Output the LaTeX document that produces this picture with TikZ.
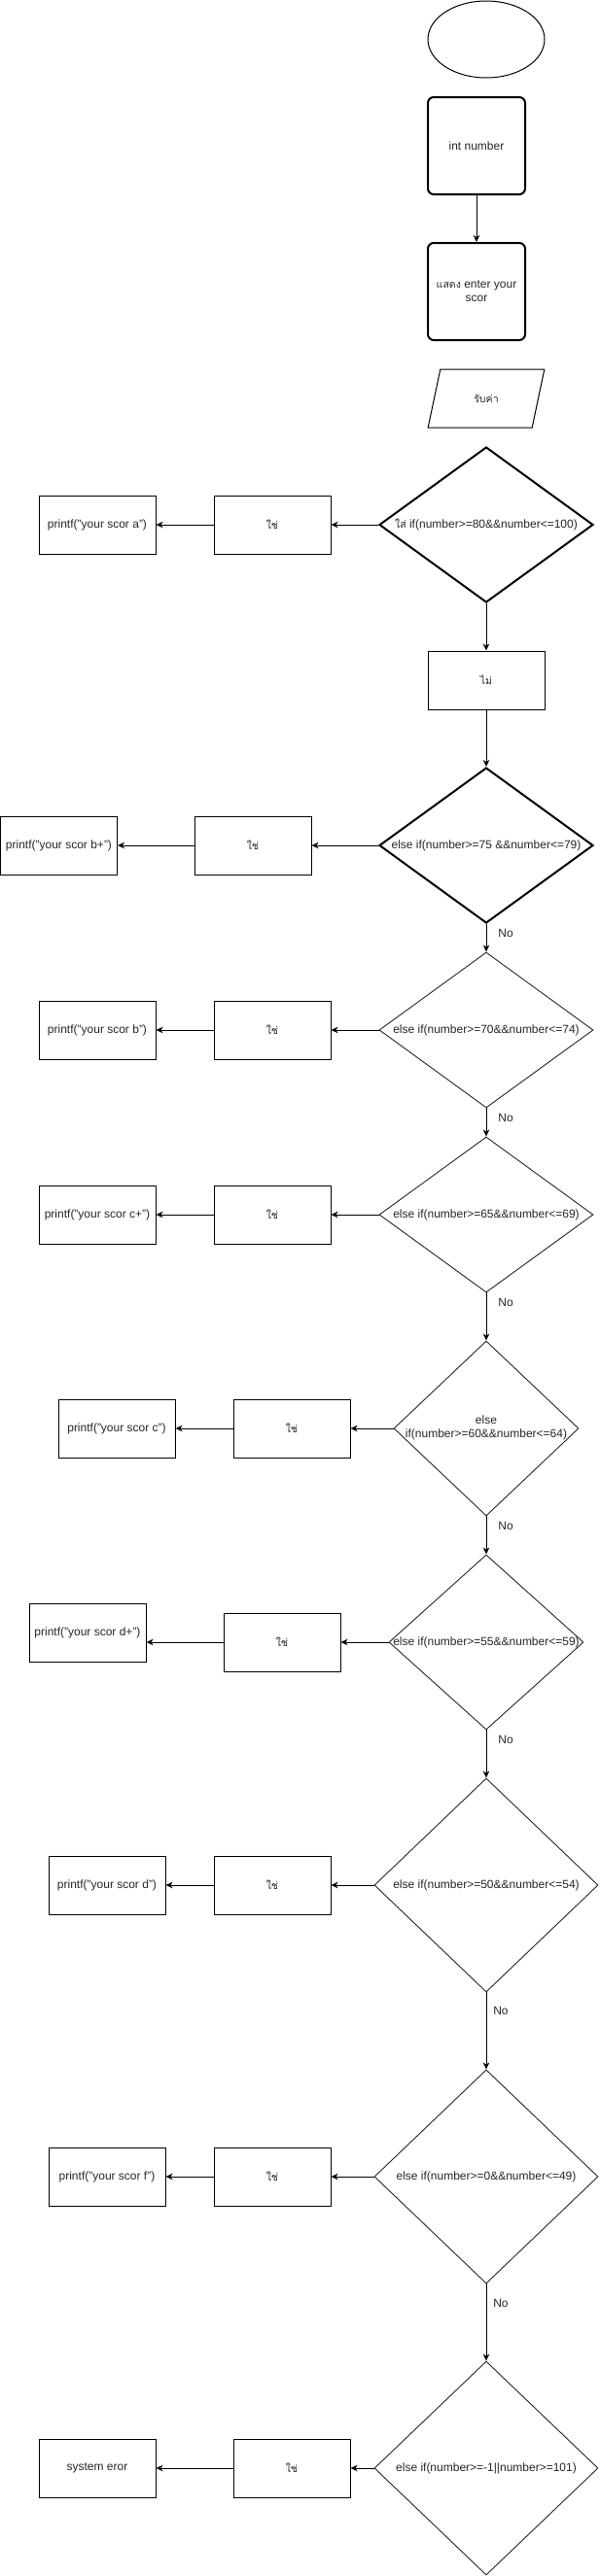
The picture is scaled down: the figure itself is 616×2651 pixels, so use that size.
\documentclass[tikz,border=0pt]{standalone}
\usepackage{fontspec}
\setmainfont{Liberation Sans}
\newfontfamily\thaifont[Script=Thai,Scale=0.88]{Loma}
\usetikzlibrary{shapes.geometric,arrows.meta}
\newcommand{\zw}[1]{\makebox[0pt]{#1}}
\tikzset{
  every node/.style={font=\fontsize{12}{14}\selectfont, text=black!85},
  box/.style={draw, line width=1pt, minimum width=120pt, minimum height=60pt, inner sep=0pt, align=center},
  rbox/.style={draw, line width=2pt, rounded corners=6pt, minimum width=100pt, minimum height=100pt, inner sep=0pt, align=center},
  dec/.style={diamond, draw=black!85, line width=0.9pt, inner sep=0pt, align=center},
  thickdec/.style={dec, draw=black, line width=2pt},
  arr/.style={line width=1pt, -{Stealth[length=7pt,width=6.5pt,inset=2pt]}},
  nolab/.style={inner sep=0pt}
}
\begin{document}
\begin{tikzpicture}[x=1pt,y=-1pt]
\useasboundingbox (0,0) rectangle (616,2651);
% top part
\node[ellipse, draw, line width=1pt, minimum width=120pt, minimum height=79pt, inner sep=0pt] (start) at (500,40.5) {};
\node[rbox] (intn) at (490,150) {int number};
\node[rbox] (show) at (490,300) {{\thaifont แสดง} enter your\\scor};
\node[trapezium, trapezium left angle=68.2, trapezium right angle=111.8, trapezium stretches=true, draw, line width=1pt, minimum width=120pt, minimum height=60pt, inner sep=0pt] (inp) at (500,410) {\thaifont รับค่า};
\draw[arr] (intn) -- (show);

% decisions
\node[thickdec, minimum width=220pt, minimum height=160pt] (d1) at (500,540) {\zw{{\thaifont ใส่} if(number>=80\&\&number<=100)}};
\node[box] (y1) at (280,540) {\thaifont ใช่};
\node[box] (p1) at (100,540) {printf("your scor a")};
\node[box] (nob) at (500,700) {\thaifont ไม่};

\node[thickdec, minimum width=220pt, minimum height=160pt] (d2) at (500,870) {\zw{else if(number>=75 \&\&number<=79)}};
\node[box] (y2) at (260,870) {\thaifont ใช่};
\node[box] (p2) at (60.5,870) {printf("your scor b+")};

\node[dec, minimum width=220pt, minimum height=160pt] (d3) at (500,1060) {\zw{else if(number>=70\&\&number<=74)}};
\node[box] (y3) at (280,1060) {\thaifont ใช่};
\node[box] (p3) at (100,1060) {printf("your scor b")};

\node[dec, minimum width=220pt, minimum height=160pt] (d4) at (500,1250) {\zw{else if(number>=65\&\&number<=69)}};
\node[box] (y4) at (280,1250) {\thaifont ใช่};
\node[box] (p4) at (100,1250) {printf("your scor c+")};

\node[dec, minimum width=190pt, minimum height=180pt] (d5) at (500,1470) {\zw{\begin{tabular}{@{}c@{}}else\\if(number>=60\&\&number<=64)\end{tabular}}};
\node[box] (y5) at (300,1470) {\thaifont ใช่};
\node[box] (p5) at (120,1470) {printf("your scor c")};

\node[dec, minimum width=200pt, minimum height=180pt] (d6) at (500,1690) {\zw{else if(number>=55\&\&number<=59)}};
\node[box] (y6) at (290,1690) {\thaifont ใช่};
\node[box] (p6) at (90,1680) {printf("your scor d+")};

\node[dec, minimum width=230pt, minimum height=220pt] (d7) at (500,1940) {\zw{else if(number>=50\&\&number<=54)}};
\node[box] (y7) at (280,1940) {\thaifont ใช่};
\node[box] (p7) at (110,1940) {printf("your scor d")};

\node[dec, minimum width=230pt, minimum height=220pt] (d8) at (500,2240) {\zw{else if(number>=0\&\&number<=49)}};
\node[box] (y8) at (280,2240) {\thaifont ใช่};
\node[box] (p8) at (110,2240) {printf("your scor f")};

\node[dec, minimum width=230pt, minimum height=220pt] (d9) at (500,2540) {\zw{else if(number>=-1||number>=101)}};
\node[box] (y9) at (300,2540) {\thaifont ใช่};
\node[box] (p9) at (100,2540) {system eror};

% yes branches
\foreach \i in {1,2,3,4,5,7,8,9}{
  \draw[arr] (d\i.west) -- (y\i.east);
  \draw[arr] (y\i.west) -- (p\i.east);
}
\draw[arr] (d6.west) -- (y6.east);
\draw[arr] (y6.west) -- (y6.west -| p6.east);

% no branches
\draw[arr] (d1.south) -- (nob.north);
\draw[arr] (nob.south) -- (d2.north);
\draw[arr] (d2.south) -- (d3.north);
\draw[arr] (d3.south) -- (d4.north);
\draw[arr] (d4.south) -- (d5.north);
\draw[arr] (d5.south) -- (d6.north);
\draw[arr] (d6.south) -- (d7.north);
\draw[arr] (d7.south) -- (d8.north);
\draw[arr] (d8.south) -- (d9.north);

\node[nolab] (n2) at (520,960) {No};
\node[nolab] (n3) at (520,1150) {No};
\node[nolab] (n4) at (520,1340) {No};
\node[nolab] (n5) at (520,1570) {No};
\node[nolab] (n6) at (520,1790) {No};
\node[nolab] (n7) at (515,2069) {No};
\node[nolab] (n8) at (515,2370) {No};
\end{tikzpicture}
\end{document}
